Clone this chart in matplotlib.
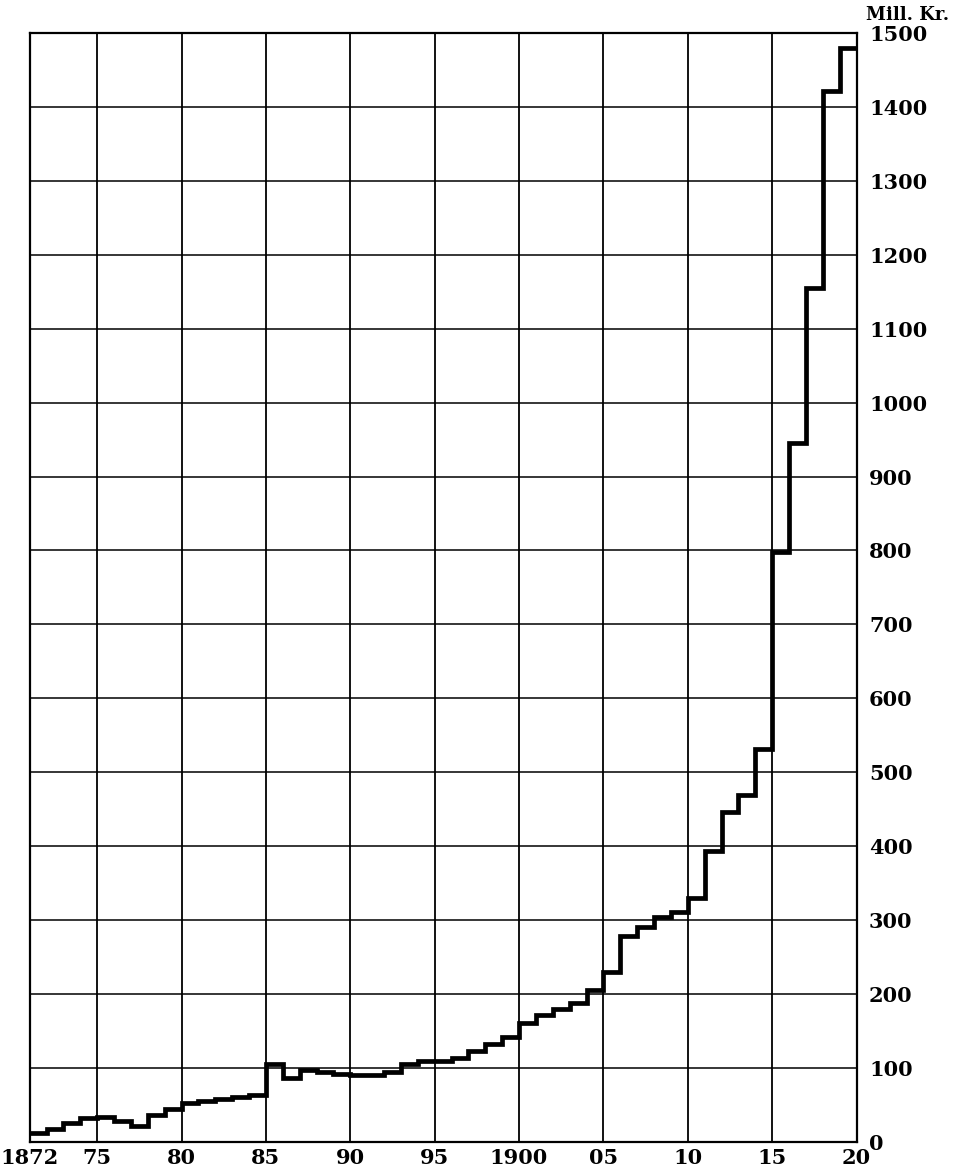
import numpy as np
import matplotlib
matplotlib.use('Agg')
from matplotlib import pyplot as plt

# yearly values, Mill. Kr., 1872 .. 1920
years = np.arange(1872, 1921)
values = [12, 17, 26, 33, 34, 29, 22, 36, 45, 53,
	55, 58, 61, 64, 105, 86, 97, 95, 92, 90,
	90, 95, 105, 110, 110, 114, 123, 132, 142, 161,
	172, 180, 188, 205, 230, 278, 291, 304, 311, 330,
	394, 446, 469, 531, 798, 946, 1155, 1422, 1480]

tick_years = [1872, 1875, 1880, 1885, 1890, 1895, 1900, 1905, 1910, 1915, 1920]
tick_labels = ['1872', '75', '80', '85', '90', '95', '1900', '05', '10', '15', '20']
y_ticks = list(range(0, 1600, 100))


def year_pos(y):
	# each year fills one unit; grid lines sit at the end of the labelled year
	if y == years[0]:
		return 0
	return y - years[0] + 1


fig = plt.figure(figsize=(9.57, 11.68), dpi=100)
ax = fig.add_axes([0.031, 0.0223, 0.864, 0.9495])

edges = np.arange(len(values) + 1)
ax.stairs(values, edges, baseline=None, color='black', linewidth=3.4, zorder=3)

xpos = [year_pos(y) for y in tick_years]
for x in xpos:
	ax.axvline(x, color='black', linewidth=1.3, zorder=1)
for v in y_ticks:
	ax.axhline(v, color='black', linewidth=1.1, zorder=1)

ax.set_xlim(0, len(values))
ax.set_ylim(0, 1500)

ax.set_xticks(xpos)
ax.set_xticklabels(tick_labels)
ax.yaxis.tick_right()
ax.set_yticks(y_ticks)
ax.set_yticklabels([str(v) for v in y_ticks])
ax.tick_params(axis='both', length=0, labelsize=15)
ax.tick_params(axis='y', pad=9)
ax.tick_params(axis='x', pad=4)
for lab in ax.get_xticklabels() + ax.get_yticklabels():
	lab.set_fontfamily('DejaVu Serif')
	lab.set_fontweight('bold')

for s in ax.spines.values():
	s.set_linewidth(1.6)

ax.text(1.012, 1.008, 'Mill. Kr.', transform=ax.transAxes, fontsize=13,
	fontfamily='DejaVu Serif', fontweight='bold', ha='left', va='bottom')

fig.savefig('out.png', dpi=100)
